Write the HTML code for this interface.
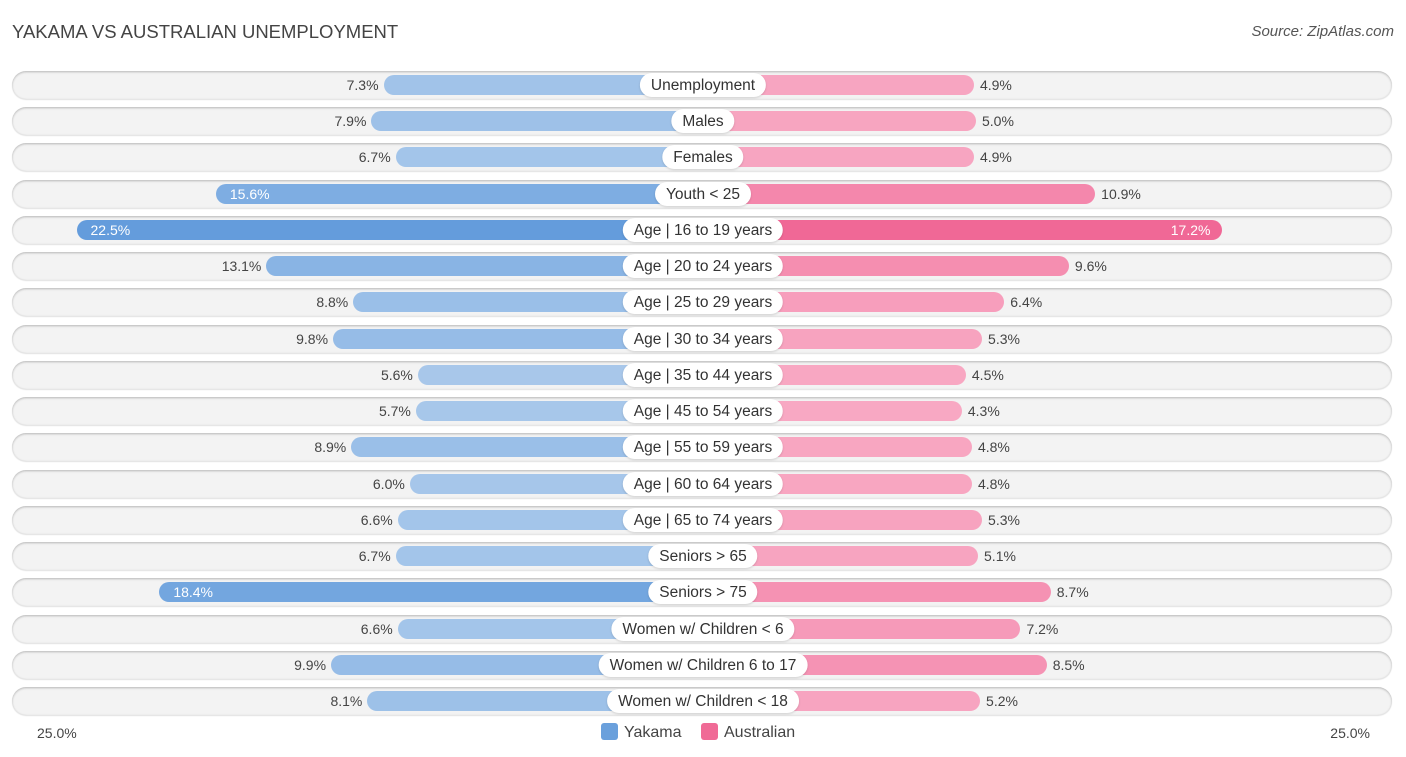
<!DOCTYPE html>
<html><head><meta charset="utf-8"><style>
body{margin:0;background:#fff;font-family:"Liberation Sans",sans-serif;}
#c{position:relative;width:1406px;height:757px;overflow:hidden}
.t{position:absolute;white-space:nowrap}
</style></head><body>
<div id="c">
<div class="t" style="left:12px;top:21px;font-size:18.5px;color:#444">YAKAMA VS AUSTRALIAN UNEMPLOYMENT</div>
<div class="t" style="right:12px;top:23px;font-size:15px;color:#555;font-style:italic">Source: ZipAtlas.com</div>
<div class="t" style="left:37px;top:725px;font-size:14px;color:#444">25.0%</div>
<div class="t" style="right:36px;top:725px;font-size:14px;color:#444">25.0%</div>
<div class="t" style="left:601px;top:723px;font-size:16px;color:#444"><span style="display:inline-block;width:17px;height:17px;background:#6aa0dc;border-radius:3px;vertical-align:-3px;margin-right:6px"></span>Yakama</div>
<div class="t" style="left:701px;top:723px;font-size:16px;color:#444"><span style="display:inline-block;width:17px;height:17px;background:#f06a96;border-radius:3px;vertical-align:-3px;margin-right:6px"></span>Australian</div>
</div>
<script>
const categories=["Unemployment","Males","Females","Youth < 25","Age | 16 to 19 years","Age | 20 to 24 years","Age | 25 to 29 years","Age | 30 to 34 years","Age | 35 to 44 years","Age | 45 to 54 years","Age | 55 to 59 years","Age | 60 to 64 years","Age | 65 to 74 years","Seniors > 65","Seniors > 75","Women w/ Children < 6","Women w/ Children 6 to 17","Women w/ Children < 18"];
const yakama=[7.3,7.9,6.7,15.6,22.5,13.1,8.8,9.8,5.6,5.7,8.9,6.0,6.6,6.7,18.4,6.6,9.9,8.1];
const australian=[4.9,5.0,4.9,10.9,17.2,9.6,6.4,5.3,4.5,4.3,4.8,4.8,5.3,5.1,8.7,7.2,8.5,5.2];
const C=703,OFF=172,K=20.2,Y0=85,DY=36.24;
function len(v){return OFF+K*v;}
function rowY(i){return Y0+i*DY;}
function mix(a,b,t){return 'rgb('+a.map((x,i)=>Math.round(x+(b[i]-x)*t)).join(',')+')';}
const c=document.getElementById('c');
function add(html){const d=document.createElement('div');d.innerHTML=html;const e=d.firstChild;c.appendChild(e);return e;}
categories.forEach((cat,i)=>{
 const y=rowY(i);
 const bg=add(`<div style="position:absolute;left:12px;width:1380px;top:${y-14}px;height:28px;border-radius:14px;background:#f3f3f3;box-shadow:0 1px 2px rgba(0,0,0,0.25) inset, 0 1px 1px rgba(0,0,0,0.12)"></div>`);
 
 
 const yv=yakama[i],av=australian[i];
 const t1=Math.min(1,Math.max(0,(yv-5)/17));
 const lb=add(`<div style="position:absolute;left:${C-len(yv)}px;width:${len(yv)}px;top:${y-10}px;height:20px;border-radius:10px;background:${mix([170,201,235],[100,156,220],t1)}"></div>`);
 
 
 const t2=Math.min(1,Math.max(0,(av-4)/13));
 const rb=add(`<div style="position:absolute;left:${C}px;width:${len(av)}px;top:${y-10}px;height:20px;border-radius:10px;background:${mix([248,170,196],[240,104,150],t2)}"></div>`);
 
 
 const lab=add(`<div class="t" style="left:${C}px;top:${y-12}px;transform:translateX(-50%);height:24px;line-height:25px;padding:0 11px;border-radius:12px;background:#fff;font-size:15.5px;color:#333;box-shadow:0 1px 2px rgba(0,0,0,0.15)">${cat.replace(/</g,'&lt;').replace(/>/g,'&gt;')}</div>`);
 
 
 let v1;
 if(yv>=15) v1=add(`<div class="t" style="left:${C-len(yv)+14}px;top:${y-8}px;font-size:14px;color:#fff">${yv.toFixed(1)}%</div>`);
 else v1=add(`<div class="t" style="right:${1406-(C-len(yv))+5}px;top:${y-8}px;font-size:14px;color:#444">${yv.toFixed(1)}%</div>`);
 
 
 let v2;
 if(av>=15) v2=add(`<div class="t" style="right:${1406-(C+len(av))+12}px;top:${y-8}px;font-size:14px;color:#fff">${av.toFixed(1)}%</div>`);
 else v2=add(`<div class="t" style="left:${C+len(av)+6}px;top:${y-8}px;font-size:14px;color:#444">${av.toFixed(1)}%</div>`);
 
 
});
</script>
</body></html>
